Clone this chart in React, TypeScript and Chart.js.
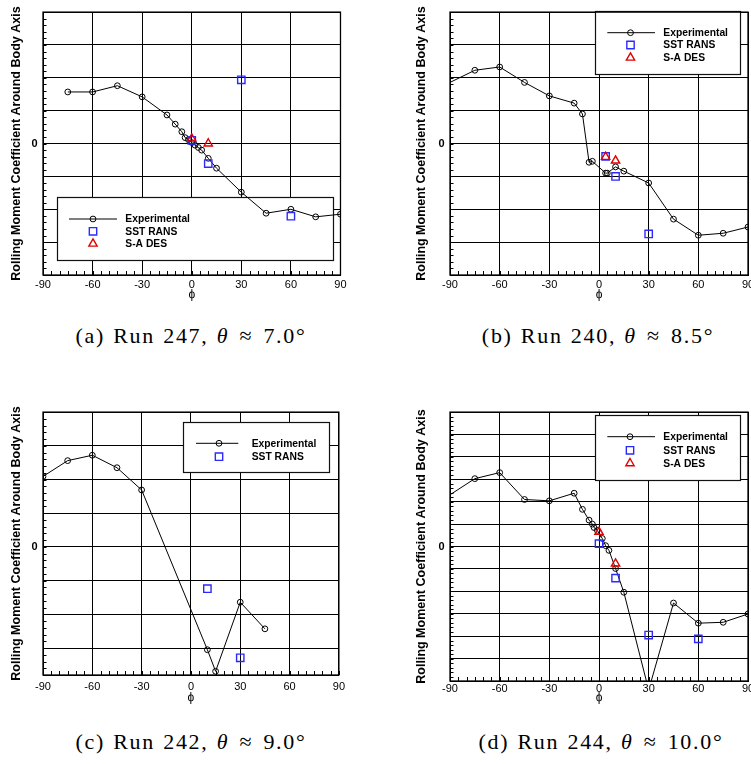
import React, { useEffect, useRef } from 'react';
import { Chart, registerables } from 'chart.js';
Chart.register(...registerables);

// ---------- data ----------
const X_TICK_VALUES = [-90, -60, -30, 0, 30, 60, 90];
const Y_TICK_LABELS: Record<string, string> = { '0': '0' };
const LEGEND_LABELS = ['Experimental', 'SST RANS', 'S-A DES'];

// (a) Run 247
const phiExpA = [-75, -60, -45, -30, -15, -10, -6, -4, -2, 0, 2, 4, 6, 10, 15, 30, 45, 60, 75, 90];
const cExpA = [1.57, 1.57, 1.76, 1.42, 0.87, 0.59, 0.36, 0.18, 0.12, 0.03, -0.05, -0.12, -0.2, -0.45, -0.75, -1.48, -2.12, -2.0, -2.23, -2.15];
const phiSstA = [0, 10, 30, 60];
const cSstA = [0.1, -0.61, 1.94, -2.21];
const phiDesA = [0, 10];
const cDesA = [0.15, 0.0];

// (b) Run 240
const phiExpB = [-90, -75, -60, -45, -30, -15, -10, -6, -4, 4, 5, 10, 15, 30, 45, 60, 75, 90];
const cExpB = [1.86, 2.23, 2.33, 1.86, 1.45, 1.23, 0.9, -0.57, -0.54, -0.9, -0.9, -0.71, -0.84, -1.2, -2.3, -2.79, -2.73, -2.54];
const phiSstB = [4, 10, 30];
const cSstB = [-0.39, -1.0, -2.75];
const phiDesB = [4, 10];
const cDesB = [-0.41, -0.52];

// (c) Run 242
const phiExpC = [-90, -75, -60, -45, -30, 10, 15, 30, 45];
const cExpC = [2.09, 2.56, 2.72, 2.35, 1.69, -3.05, -3.69, -1.64, -2.43];
const phiSstC = [10, 30];
const cSstC = [-1.24, -3.29];

// (d) Run 244
const phiExpD = [-90, -75, -60, -45, -30, -15, -10, -6, -4, -3, -1, 2, 4, 6, 10, 15, 30, 45, 60, 75, 90];
const cExpD = [2.31, 3.03, 3.3, 2.1, 2.04, 2.38, 1.66, 1.18, 1.0, 0.85, 0.72, 0.36, 0.04, -0.17, -0.98, -2.04, -6.4, -2.52, -3.42, -3.38, -3.01];
const phiSstD = [0, 10, 30, 60];
const cSstD = [0.13, -1.41, -3.95, -4.12];
const phiDesD = [0, 10];
const cDesD = [0.65, -0.76];

// ---------- styles ----------
const SANS = "'Liberation Sans', Arial, 'DejaVu Sans', sans-serif";
const SERIF = "'Liberation Serif', 'DejaVu Serif', serif";
const R_CIRCLE = 2.9;
const R_RECT = 5.2;
const R_TRI = 4.8;
const BLUE = '#2a2aff';
const RED = '#e00000';

type Series = { phi: number[]; c: number[] };
type PanelCfg = {
  key: string;
  run: string;
  theta: string;
  canvas: { left: number; top: number; width: number; height: number };
  area: { l: number; t: number; r: number; b: number };
  yMin: number;
  yMax: number;
  exp: Series;
  sst: Series;
  des?: Series;
  hideEdgeMarker: boolean;
  legend: { x1: number; y1: number; x2: number; y2: number; rows: number[]; lx1: number; lx2: number; mx: number; tx: number };
  yTitleX: number;
  xTitleY: number;
  xLabelPad: number;
  capX: number;
  capY: number;
};

const panels: PanelCfg[] = [
  {
    key: 'a', run: '247', theta: '7.0',
    canvas: { left: 0, top: 0, width: 350, height: 305 },
    area: { l: 43, t: 4, r: 341, b: 275 },
    yMin: -4, yMax: 4,
    exp: { phi: phiExpA, c: cExpA }, sst: { phi: phiSstA, c: cSstA }, des: { phi: phiDesA, c: cDesA },
    hideEdgeMarker: false,
    legend: { x1: 57.5, y1: 197.5, x2: 333.5, y2: 260.5, rows: [219, 231.3, 243.7], lx1: 69, lx2: 117, mx: 93, tx: 125.3 },
    yTitleX: 16.7, xTitleY: 295, xLabelPad: 3.4, capX: 191, capY: 336,
  },
  {
    key: 'b', run: '240', theta: '8.5',
    canvas: { left: 400, top: 0, width: 360, height: 305 },
    area: { l: 450, t: 4, r: 748, b: 275 },
    yMin: -4, yMax: 4,
    exp: { phi: phiExpB, c: cExpB }, sst: { phi: phiSstB, c: cSstB }, des: { phi: phiDesB, c: cDesB },
    hideEdgeMarker: true,
    legend: { x1: 595.5, y1: 11.5, x2: 740.5, y2: 74.5, rows: [32.7, 45, 57.7], lx1: 607.3, lx2: 655, mx: 630.5, tx: 663.3 },
    yTitleX: 421.7, xTitleY: 295, xLabelPad: 3.4, capX: 598, capY: 336,
  },
  {
    key: 'c', run: '242', theta: '9.0',
    canvas: { left: 0, top: 400, width: 350, height: 310 },
    area: { l: 43, t: 409, r: 341, b: 675 },
    yMin: -3.8, yMax: 4,
    exp: { phi: phiExpC, c: cExpC }, sst: { phi: phiSstC, c: cSstC },
    hideEdgeMarker: false,
    legend: { x1: 183.5, y1: 422.5, x2: 329.5, y2: 472.5, rows: [443.3, 456.7], lx1: 196, lx2: 238.3, mx: 219, tx: 251.7 },
    yTitleX: 16.7, xTitleY: 698, xLabelPad: 5, capX: 191, capY: 742,
  },
  {
    key: 'd', run: '244', theta: '10.0',
    canvas: { left: 400, top: 400, width: 360, height: 310 },
    area: { l: 450, t: 409, r: 748, b: 681 },
    yMin: -6, yMax: 6,
    exp: { phi: phiExpD, c: cExpD }, sst: { phi: phiSstD, c: cSstD }, des: { phi: phiDesD, c: cDesD },
    hideEdgeMarker: true,
    legend: { x1: 595.5, y1: 415.5, x2: 740.5, y2: 480.5, rows: [436.7, 450.3, 463.3], lx1: 607.3, lx2: 655, mx: 630, tx: 663.3 },
    yTitleX: 421.7, xTitleY: 698, xLabelPad: 1, capX: 601, capY: 742,
  },
];

function drawMarker(ctx: CanvasRenderingContext2D, style: string, x: number, y: number, r: number) {
  ctx.beginPath();
  if (style === 'circle') {
    ctx.arc(x, y, r, 0, Math.PI * 2);
  } else if (style === 'rect') {
    const s = Math.SQRT1_2 * r;
    ctx.rect(x - s, y - s, 2 * s, 2 * s);
  } else {
    let rad = 0;
    ctx.moveTo(x + Math.sin(rad) * r, y - Math.cos(rad) * r);
    rad += (2 * Math.PI) / 3;
    ctx.lineTo(x + Math.sin(rad) * r, y - Math.cos(rad) * r);
    rad += (2 * Math.PI) / 3;
    ctx.lineTo(x + Math.sin(rad) * r, y - Math.cos(rad) * r);
    ctx.closePath();
  }
  ctx.stroke();
}

const tecplotPlugin = {
  id: 'tecplot',
  beforeDatasetsDraw(chart: any, _args: any, opts: any) {
    const lg = opts.legend;
    if (!lg) return;
    const ox = opts.ox, oy = opts.oy;
    const ctx: CanvasRenderingContext2D = chart.ctx;
    ctx.save();
    ctx.fillStyle = '#fff';
    ctx.fillRect(lg.x1 - ox, lg.y1 - oy, lg.x2 - lg.x1, lg.y2 - lg.y1);
    ctx.strokeStyle = '#111';
    ctx.lineWidth = 1.2;
    ctx.strokeRect(lg.x1 - ox, lg.y1 - oy, lg.x2 - lg.x1, lg.y2 - lg.y1);
    chart.data.datasets.forEach((ds: any, i: number) => {
      const y = lg.rows[i] - oy;
      if (ds.showLine) {
        ctx.strokeStyle = '#000';
        ctx.lineWidth = 1;
        ctx.beginPath();
        ctx.moveTo(lg.lx1 - ox, y);
        ctx.lineTo(lg.lx2 - ox, y);
        ctx.stroke();
      }
      ctx.strokeStyle = ds.pointBorderColor;
      ctx.lineWidth = ds.pointBorderWidth;
      drawMarker(ctx, ds.pointStyle, lg.mx - ox, y, ds.legendRadius);
      ctx.fillStyle = '#000';
      ctx.font = `bold 10.3px ${SANS}`;
      ctx.textBaseline = 'middle';
      ctx.textAlign = 'left';
      ctx.fillText(ds.label, lg.tx - ox, y + 0.5);
    });
    ctx.restore();
  },
  afterDraw(chart: any) {
    const ctx: CanvasRenderingContext2D = chart.ctx;
    const { left, right, top, bottom } = chart.chartArea;
    const xs = chart.scales.x, ys = chart.scales.y;
    ctx.save();
    ctx.strokeStyle = '#000';
    ctx.lineWidth = 1;
    ctx.beginPath();
    const yStep = 0.2;
    for (let v = Math.ceil(ys.min / yStep - 1e-6) * yStep; v <= ys.max + 1e-6; v += yStep) {
      const py = Math.round(ys.getPixelForValue(v)) + 0.5;
      ctx.moveTo(left, py);
      ctx.lineTo(left + 3.5, py);
    }
    for (let v = xs.min; v <= xs.max + 1e-6; v += 5) {
      const px = Math.round(xs.getPixelForValue(v)) + 0.5;
      ctx.moveTo(px, bottom);
      ctx.lineTo(px, bottom - 4);
    }
    ctx.stroke();
    ctx.lineWidth = 1.3;
    ctx.strokeRect(left, top, right - left, bottom - top);
    ctx.restore();
  },
};

function Panel({ cfg }: { cfg: PanelCfg }) {
  const ref = useRef<HTMLCanvasElement>(null);
  useEffect(() => {
    const cv = ref.current;
    if (!cv) return;
    const C = cfg.canvas, A = cfg.area;
    const mk = (s: Series) => s.phi.map((x, i) => ({ x, y: s.c[i] }));
    const datasets: any[] = [
      {
        label: LEGEND_LABELS[0],
        data: mk(cfg.exp),
        showLine: true,
        borderColor: '#000',
        borderWidth: 1,
        pointStyle: 'circle',
        pointRadius: cfg.hideEdgeMarker ? (c: any) => (c.raw && c.raw.x <= -90 ? 0 : R_CIRCLE) : R_CIRCLE,
        legendRadius: R_CIRCLE,
        pointBorderColor: '#000',
        pointBackgroundColor: 'rgba(0,0,0,0)',
        pointBorderWidth: 1,
        order: 3,
      },
      {
        label: LEGEND_LABELS[1],
        data: mk(cfg.sst),
        showLine: false,
        pointStyle: 'rect',
        pointRadius: R_RECT,
        legendRadius: R_RECT,
        pointBorderColor: BLUE,
        borderColor: BLUE,
        pointBackgroundColor: 'rgba(0,0,0,0)',
        pointBorderWidth: 1.4,
        order: 2,
      },
    ];
    if (cfg.des) {
      datasets.push({
        label: LEGEND_LABELS[2],
        data: mk(cfg.des),
        showLine: false,
        pointStyle: 'triangle',
        pointRadius: R_TRI,
        legendRadius: R_TRI,
        pointBorderColor: RED,
        borderColor: RED,
        pointBackgroundColor: 'rgba(0,0,0,0)',
        pointBorderWidth: 1.4,
        order: 1,
      });
    }
    const yMin = cfg.yMin, yMax = cfg.yMax;
    const chart = new Chart(cv, {
      type: 'scatter',
      data: { datasets },
      plugins: [tecplotPlugin as any],
      options: {
        responsive: false,
        animation: false,
        events: [],
        layout: {
          autoPadding: false,
          padding: { left: 0, top: A.t - C.top, right: C.left + C.width - A.r, bottom: 0 },
        },
        plugins: {
          legend: { display: false },
          tooltip: { enabled: false },
          tecplot: { legend: cfg.legend, ox: C.left, oy: C.top },
        } as any,
        scales: {
          x: {
            type: 'linear',
            position: 'bottom',
            min: -90,
            max: 90,
            afterBuildTicks: (s: any) => {
              s.ticks = X_TICK_VALUES.map((v) => ({ value: v }));
            },
            afterFit: (s: any) => {
              s.height = C.top + C.height - A.b;
            },
            grid: { color: '#000', lineWidth: 1, drawTicks: false },
            border: { color: '#000', width: 1 },
            ticks: {
              font: { family: SANS, size: 11 },
              color: '#000',
              padding: cfg.xLabelPad,
              maxRotation: 0,
              autoSkip: false,
              callback: (v: any) => String(v),
            },
            title: {
              display: true,
              text: 'ϕ',
              color: '#000',
              font: { family: SANS, size: 12 },
              padding: { top: 0, bottom: C.top + C.height - cfg.xTitleY - 7.2 },
            },
          },
          y: {
            type: 'linear',
            min: yMin,
            max: yMax,
            afterBuildTicks: (s: any) => {
              const t: any[] = [];
              if (Math.abs(yMin - Math.ceil(yMin)) > 1e-6) t.push({ value: yMin });
              for (let v = Math.ceil(yMin); v <= yMax + 1e-6; v += 1) t.push({ value: v });
              s.ticks = t;
            },
            afterFit: (s: any) => {
              s.width = A.l - C.left;
            },
            grid: { color: '#000', lineWidth: 1, drawTicks: false },
            border: { color: '#000', width: 1 },
            ticks: {
              font: { family: SANS, size: 11, weight: 'bold' },
              color: '#000',
              padding: 5.5,
              autoSkip: false,
              callback: (v: any) => Y_TICK_LABELS[String(Math.round(v * 1000) / 1000)] ?? '',
            },
            title: {
              display: true,
              text: 'Rolling Moment Coefficient Around Body Axis',
              color: '#000',
              font: { family: SANS, size: 12.5, weight: 'bold' },
              padding: { top: cfg.yTitleX - C.left - 7.5, bottom: 0 },
            },
          },
        },
      } as any,
    });
    return () => chart.destroy();
  }, [cfg]);
  const C = cfg.canvas;
  return (
    <canvas
      ref={ref}
      width={C.width}
      height={C.height}
      style={{ position: 'absolute', left: C.left, top: C.top, width: C.width, height: C.height }}
    />
  );
}

function Caption({ cfg }: { cfg: PanelCfg }) {
  return (
    <div
      style={{
        position: 'absolute',
        left: cfg.capX - 200,
        width: 400,
        top: cfg.capY - 14,
        height: 28,
        lineHeight: '28px',
        textAlign: 'center',
        fontFamily: SERIF,
        fontSize: 22,
        letterSpacing: '1.7px',
        wordSpacing: '1px',
        color: '#000',
        whiteSpace: 'nowrap',
      }}
    >
      ({cfg.key}) Run {cfg.run},{' '}
      <i>θ</i>{' '}
      <span style={{ margin: '0 2px' }}>≈</span>{' '}
      {cfg.theta}°
    </div>
  );
}

export default function App() {
  return (
    <div
      style={{
        position: 'fixed',
        left: 0,
        top: 0,
        width: 751,
        height: 764,
        overflow: 'hidden',
        background: '#fff',
      }}
    >
      {panels.map((p) => (
        <Panel key={p.key} cfg={p} />
      ))}
      {panels.map((p) => (
        <Caption key={'cap' + p.key} cfg={p} />
      ))}
    </div>
  );
}
